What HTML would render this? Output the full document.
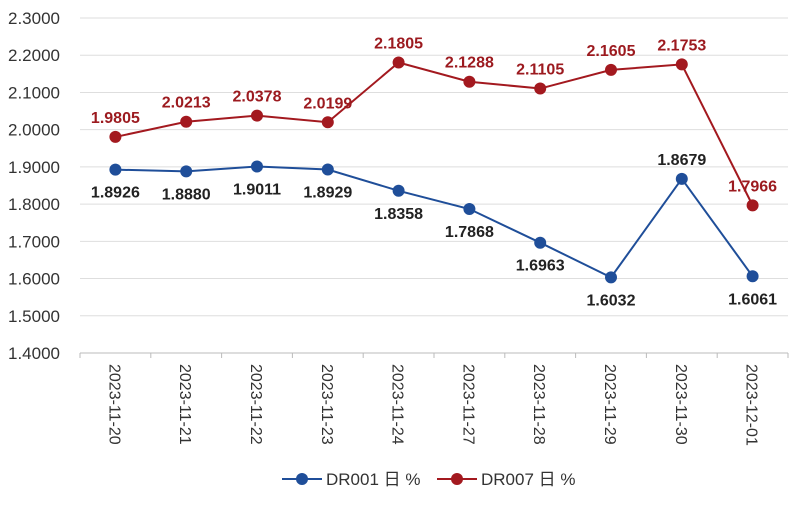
<!DOCTYPE html>
<html><head><meta charset="utf-8"><style>
html,body{margin:0;padding:0;background:#fff;}
svg text{font-family:"Liberation Sans","Noto Sans CJK SC",sans-serif;}
</style></head><body>
<svg id="chart" width="800" height="504" xmlns="http://www.w3.org/2000/svg">
<rect width="800" height="504" fill="#fff"/>
<g id="grid"></g><g id="yticks"></g><g id="xaxis"></g><g id="series"></g>
<g>
 <g>
  <line x1="282" y1="479" x2="322" y2="479" stroke="#1f4e99" stroke-width="2"/>
  <circle cx="302" cy="479" r="6" fill="#1f4e99"/>
  <text x="326" y="485" font-size="17" fill="#333">DR001 日 %</text>
 </g>
 <g>
  <line x1="437" y1="479" x2="477" y2="479" stroke="#a3191f" stroke-width="2"/>
  <circle cx="457" cy="479" r="6" fill="#a3191f"/>
  <text x="481" y="485" font-size="17" fill="#333">DR007 日 %</text>
 </g>
</g>
</svg>
<script>
const categories=["2023-11-20","2023-11-21","2023-11-22","2023-11-23","2023-11-24","2023-11-27","2023-11-28","2023-11-29","2023-11-30","2023-12-01"];
const dr001=[1.8926,1.8880,1.9011,1.8929,1.8358,1.7868,1.6963,1.6032,1.8679,1.6061];
const dr007=[1.9805,2.0213,2.0378,2.0199,2.1805,2.1288,2.1105,2.1605,2.1753,1.7966];
const yTicks=[1.4,1.5,1.6,1.7,1.8,1.9,2.0,2.1,2.2,2.3];
const NS="http://www.w3.org/2000/svg";
const leftX=80,rightX=788,topY=18,bottomY=353,ymin=1.4,ymax=2.3;
const bw=(rightX-leftX)/categories.length;
function x(i){return leftX+bw*(i+0.5);}
function y(v){return bottomY-(v-ymin)/(ymax-ymin)*(bottomY-topY);}
function mk(tag,attrs,parent){const e=document.createElementNS(NS,tag);for(const k in attrs)e.setAttribute(k,attrs[k]);parent.appendChild(e);return e;}
const grid=document.getElementById('grid'),yt=document.getElementById('yticks'),xa=document.getElementById('xaxis'),se=document.getElementById('series');
yTicks.forEach(t=>{
 const l=mk('line',{x1:leftX,x2:rightX,y1:y(t),y2:y(t),stroke:t===ymin?'#bbb':'#dedede','stroke-width':1},grid);
 
 
 const tx=mk('text',{x:8,y:y(t)+6,'font-size':17,fill:'#333'},yt);
 tx.textContent=t.toFixed(4);
 
 
});
for(let i=0;i<=categories.length;i++){
 const tk=mk('line',{x1:leftX+bw*i,x2:leftX+bw*i,y1:bottomY,y2:bottomY+5,stroke:'#bbb'},xa);
 
 
}
categories.forEach((c,i)=>{
 const tx=mk('text',{x:0,y:0,'font-size':16,fill:'#333',transform:`translate(${x(i)-6},364) rotate(90)`},xa);
 tx.textContent=c;
 
 
});
function drawSeries(vals,color,name,labelColor,above){
 const pl=mk('polyline',{points:vals.map((v,i)=>x(i)+','+y(v)).join(' '),fill:'none',stroke:color,'stroke-width':2},se);
 
 
 vals.forEach((v,i)=>{
  const c=mk('circle',{cx:x(i),cy:y(v),r:6,fill:color},se);
  
  
  let ab=above;
  if(name==='dr001'&&i===8)ab=true;
  const t=mk('text',{x:x(i),y:ab?y(v)-14:y(v)+28,'font-size':16,'font-weight':'bold','text-anchor':'middle',fill:labelColor},se);
  t.textContent=v.toFixed(4);
  
  
 });
}
drawSeries(dr001,'#1f4e99','dr001','#222',false);
drawSeries(dr007,'#a3191f','dr007','#9c1a1f',true);
</script>
</body></html>
